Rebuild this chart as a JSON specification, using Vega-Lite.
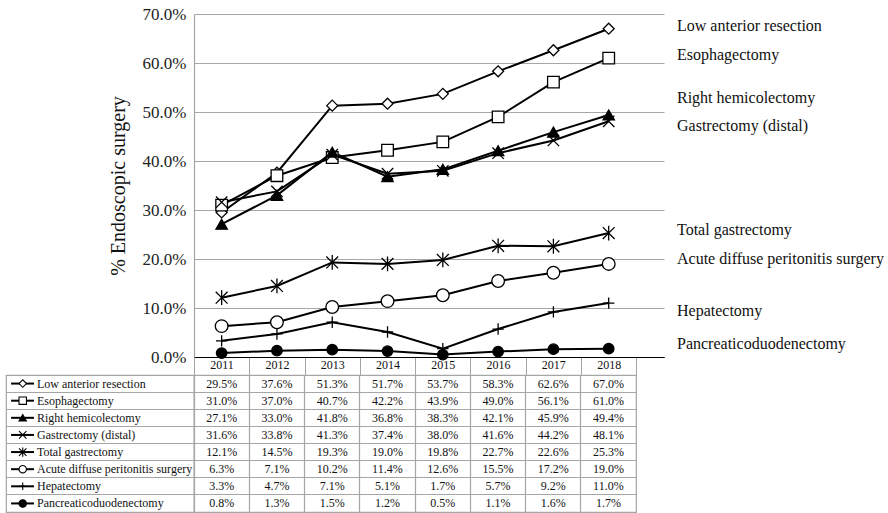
{
  "$schema": "https://vega.github.io/schema/vega-lite/v6.json",
  "padding": {"left": 5, "top": 5, "right": 0, "bottom": 0},
  "config": {
    "font": "Liberation Serif",
    "view": {"stroke": null},
    "text": {"font": "Liberation Serif"},
    "axis": {"labelFont": "Liberation Serif", "titleFont": "Liberation Serif"}
  },
  "datasets": {
    "d": [
      {"series": "Low anterior resection", "year": 2011, "pct": 0.295},
      {"series": "Low anterior resection", "year": 2012, "pct": 0.376},
      {"series": "Low anterior resection", "year": 2013, "pct": 0.513},
      {"series": "Low anterior resection", "year": 2014, "pct": 0.517},
      {"series": "Low anterior resection", "year": 2015, "pct": 0.537},
      {"series": "Low anterior resection", "year": 2016, "pct": 0.583},
      {"series": "Low anterior resection", "year": 2017, "pct": 0.626},
      {"series": "Low anterior resection", "year": 2018, "pct": 0.670},
      {"series": "Esophagectomy", "year": 2011, "pct": 0.310},
      {"series": "Esophagectomy", "year": 2012, "pct": 0.370},
      {"series": "Esophagectomy", "year": 2013, "pct": 0.407},
      {"series": "Esophagectomy", "year": 2014, "pct": 0.422},
      {"series": "Esophagectomy", "year": 2015, "pct": 0.439},
      {"series": "Esophagectomy", "year": 2016, "pct": 0.490},
      {"series": "Esophagectomy", "year": 2017, "pct": 0.561},
      {"series": "Esophagectomy", "year": 2018, "pct": 0.610},
      {"series": "Right hemicolectomy", "year": 2011, "pct": 0.271},
      {"series": "Right hemicolectomy", "year": 2012, "pct": 0.330},
      {"series": "Right hemicolectomy", "year": 2013, "pct": 0.418},
      {"series": "Right hemicolectomy", "year": 2014, "pct": 0.368},
      {"series": "Right hemicolectomy", "year": 2015, "pct": 0.383},
      {"series": "Right hemicolectomy", "year": 2016, "pct": 0.421},
      {"series": "Right hemicolectomy", "year": 2017, "pct": 0.459},
      {"series": "Right hemicolectomy", "year": 2018, "pct": 0.494},
      {"series": "Gastrectomy (distal)", "year": 2011, "pct": 0.316},
      {"series": "Gastrectomy (distal)", "year": 2012, "pct": 0.338},
      {"series": "Gastrectomy (distal)", "year": 2013, "pct": 0.413},
      {"series": "Gastrectomy (distal)", "year": 2014, "pct": 0.374},
      {"series": "Gastrectomy (distal)", "year": 2015, "pct": 0.380},
      {"series": "Gastrectomy (distal)", "year": 2016, "pct": 0.416},
      {"series": "Gastrectomy (distal)", "year": 2017, "pct": 0.442},
      {"series": "Gastrectomy (distal)", "year": 2018, "pct": 0.481},
      {"series": "Total gastrectomy", "year": 2011, "pct": 0.121},
      {"series": "Total gastrectomy", "year": 2012, "pct": 0.145},
      {"series": "Total gastrectomy", "year": 2013, "pct": 0.193},
      {"series": "Total gastrectomy", "year": 2014, "pct": 0.190},
      {"series": "Total gastrectomy", "year": 2015, "pct": 0.198},
      {"series": "Total gastrectomy", "year": 2016, "pct": 0.227},
      {"series": "Total gastrectomy", "year": 2017, "pct": 0.226},
      {"series": "Total gastrectomy", "year": 2018, "pct": 0.253},
      {"series": "Acute diffuse peritonitis surgery", "year": 2011, "pct": 0.063},
      {"series": "Acute diffuse peritonitis surgery", "year": 2012, "pct": 0.071},
      {"series": "Acute diffuse peritonitis surgery", "year": 2013, "pct": 0.102},
      {"series": "Acute diffuse peritonitis surgery", "year": 2014, "pct": 0.114},
      {"series": "Acute diffuse peritonitis surgery", "year": 2015, "pct": 0.126},
      {"series": "Acute diffuse peritonitis surgery", "year": 2016, "pct": 0.155},
      {"series": "Acute diffuse peritonitis surgery", "year": 2017, "pct": 0.172},
      {"series": "Acute diffuse peritonitis surgery", "year": 2018, "pct": 0.190},
      {"series": "Hepatectomy", "year": 2011, "pct": 0.033},
      {"series": "Hepatectomy", "year": 2012, "pct": 0.047},
      {"series": "Hepatectomy", "year": 2013, "pct": 0.071},
      {"series": "Hepatectomy", "year": 2014, "pct": 0.051},
      {"series": "Hepatectomy", "year": 2015, "pct": 0.017},
      {"series": "Hepatectomy", "year": 2016, "pct": 0.057},
      {"series": "Hepatectomy", "year": 2017, "pct": 0.092},
      {"series": "Hepatectomy", "year": 2018, "pct": 0.110},
      {"series": "Pancreaticoduodenectomy", "year": 2011, "pct": 0.008},
      {"series": "Pancreaticoduodenectomy", "year": 2012, "pct": 0.013},
      {"series": "Pancreaticoduodenectomy", "year": 2013, "pct": 0.015},
      {"series": "Pancreaticoduodenectomy", "year": 2014, "pct": 0.012},
      {"series": "Pancreaticoduodenectomy", "year": 2015, "pct": 0.005},
      {"series": "Pancreaticoduodenectomy", "year": 2016, "pct": 0.011},
      {"series": "Pancreaticoduodenectomy", "year": 2017, "pct": 0.016},
      {"series": "Pancreaticoduodenectomy", "year": 2018, "pct": 0.017}
    ]
  },
  "columns": 2,
  "align": "each",
  "bounds": "flush",
  "spacing": {"row": 18, "column": 0},
  "concat": [
    {
      "width": 188,
      "height": 343,
      "view": {"stroke": null},
      "data": {"values": [{"a": 1}]},
      "mark": {"type": "text"},
      "encoding": {"text": {"value": ""}}
    },
    {
      "width": 470,
      "height": 343,
      "view": {"stroke": null},
      "data": {"name": "d"},
      "encoding": {
        "x": {
          "field": "year",
          "type": "quantitative",
          "scale": {"domain": [2010.5, 2019], "nice": false, "zero": false},
          "axis": {
            "title": null,
            "values": [2010.5, 2011.5, 2012.5, 2013.5, 2014.5, 2015.5, 2016.5, 2017.5, 2018.5],
            "labelExpr": "datum.value > 2018 ? '' : toString(datum.value + 0.5)",
            "labelOffset": 27.6,
            "labelPadding": -16,
            "labelBaseline": "top",
            "labelFlush": false,
            "labelOverlap": false,
            "labelFontSize": 12,
            "labelColor": "#111",
            "grid": false,
            "ticks": true,
            "tickSize": 18,
            "tickColor": "#a6a6a6",
            "tickWidth": 1,
            "domainColor": "#000",
            "domainWidth": 1.2
          }
        },
        "y": {
          "field": "pct",
          "type": "quantitative",
          "scale": {"domain": [0, 0.7], "nice": false, "zero": true},
          "axis": {
            "title": "% Endoscopic surgery",
            "titleFontSize": 20,
            "titleFontWeight": "normal",
            "titleColor": "#111",
            "titlePadding": 14,
            "values": [0, 0.1, 0.2, 0.3, 0.4, 0.5, 0.6, 0.7],
            "format": ".1%",
            "labelFontSize": 17,
            "labelColor": "#222",
            "labelPadding": 8,
            "ticks": false,
            "grid": true,
            "gridColor": {"condition": {"test": "datum.value === 0", "value": "#000"}, "value": "#a6a6a6"},
            "gridWidth": 1.2,
            "domainColor": "#a6a6a6",
            "domainWidth": 1.2
          }
        }
      },
      "layer": [
        {
          "mark": {"type": "line", "color": "#000", "strokeWidth": 2},
          "encoding": {"detail": {"field": "series"}}
        },
        {
          "mark": {"type": "point", "filled": true, "opacity": 1, "stroke": "#000", "strokeWidth": 1.3},
          "encoding": {
            "shape": {
              "field": "series",
              "type": "nominal",
              "legend": null,
              "scale": {
                "domain": ["Low anterior resection", "Esophagectomy", "Right hemicolectomy", "Gastrectomy (distal)", "Total gastrectomy", "Acute diffuse peritonitis surgery", "Hepatectomy", "Pancreaticoduodenectomy"],
                "range": ["diamond", "square", "triangle-up", "M-1,-1L1,1M-1,1L1,-1", "M-1,-1L1,1M-1,1L1,-1M0,-1.25L0,1.25", "circle", "M-1,0L1,0M0,-1L0,1", "circle"]
              }
            },
            "fill": {
              "field": "series",
              "type": "nominal",
              "legend": null,
              "scale": {
                "domain": ["Low anterior resection", "Esophagectomy", "Right hemicolectomy", "Gastrectomy (distal)", "Total gastrectomy", "Acute diffuse peritonitis surgery", "Hepatectomy", "Pancreaticoduodenectomy"],
                "range": ["#fff", "#fff", "#000", "transparent", "transparent", "#fff", "transparent", "#000"]
              }
            },
            "size": {
              "field": "series",
              "type": "nominal",
              "legend": null,
              "scale": {
                "type": "ordinal",
                "domain": ["Low anterior resection", "Esophagectomy", "Right hemicolectomy", "Gastrectomy (distal)", "Total gastrectomy", "Acute diffuse peritonitis surgery", "Hepatectomy", "Pancreaticoduodenectomy"],
                "range": [120, 135, 130, 130, 140, 160, 130, 110]
              }
            }
          }
        },
        {
          "transform": [{"filter": "datum.year === 2018 && indexof(['Low anterior resection','Esophagectomy','Total gastrectomy'], datum.series) >= 0"}],
          "mark": {"type": "text", "font": "Liberation Serif", "align": "left", "baseline": "middle", "fontSize": 16, "dx": 13, "dy": -3, "color": "#111"},
          "encoding": {"x": {"datum": 2019}, "text": {"field": "series"}}
        },
        {
          "transform": [{"filter": "datum.year === 2018 && datum.series === 'Acute diffuse peritonitis surgery'"}],
          "mark": {"type": "text", "font": "Liberation Serif", "align": "left", "baseline": "middle", "fontSize": 16, "dx": 13, "dy": -4.5, "color": "#111"},
          "encoding": {"x": {"datum": 2019}, "text": {"field": "series"}}
        },
        {
          "transform": [{"filter": "datum.year === 2018 && datum.series === 'Right hemicolectomy'"}],
          "mark": {"type": "text", "font": "Liberation Serif", "align": "left", "baseline": "middle", "fontSize": 16, "dx": 13, "dy": -17, "color": "#111"},
          "encoding": {"x": {"datum": 2019}, "text": {"field": "series"}}
        },
        {
          "transform": [{"filter": "datum.year === 2018 && datum.series === 'Gastrectomy (distal)'"}],
          "mark": {"type": "text", "font": "Liberation Serif", "align": "left", "baseline": "middle", "fontSize": 16, "dx": 13, "dy": 5, "color": "#111"},
          "encoding": {"x": {"datum": 2019}, "text": {"field": "series"}}
        },
        {
          "transform": [{"filter": "datum.year === 2018 && datum.series === 'Hepatectomy'"}],
          "mark": {"type": "text", "font": "Liberation Serif", "align": "left", "baseline": "middle", "fontSize": 16, "dx": 13, "dy": 8, "color": "#111"},
          "encoding": {"x": {"datum": 2019}, "text": {"field": "series"}}
        },
        {
          "transform": [{"filter": "datum.year === 2018 && datum.series === 'Pancreaticoduodenectomy'"}],
          "mark": {"type": "text", "font": "Liberation Serif", "align": "left", "baseline": "middle", "fontSize": 16, "dx": 13, "dy": -5, "color": "#111"},
          "encoding": {"x": {"datum": 2019}, "text": {"field": "series"}}
        }
      ]
    },
    {
      "width": 188,
      "height": 137,
      "view": {"stroke": "#a6a6a6", "strokeWidth": 1.2},
      "data": {"name": "d"},
      "transform": [{"filter": "datum.year === 2011"}],
      "encoding": {
        "y": {
          "field": "series",
          "type": "nominal",
          "sort": ["Low anterior resection", "Esophagectomy", "Right hemicolectomy", "Gastrectomy (distal)", "Total gastrectomy", "Acute diffuse peritonitis surgery", "Hepatectomy", "Pancreaticoduodenectomy"],
          "scale": {"type": "band", "paddingInner": 0, "paddingOuter": 0},
          "axis": {"title": null, "labels": false, "ticks": false, "domain": false, "grid": true, "bandPosition": 0, "gridColor": "#a6a6a6", "gridWidth": 1.2}
        }
      },
      "layer": [
        {
          "mark": {"type": "rule", "color": "#000", "strokeWidth": 2},
          "encoding": {
            "x": {"datum": 0.027, "type": "quantitative", "scale": {"domain": [0, 1], "nice": false}, "axis": null},
            "x2": {"datum": 0.149}
          }
        },
        {
          "mark": {"type": "point", "filled": true, "opacity": 1, "stroke": "#000", "strokeWidth": 1.1},
          "encoding": {
            "x": {"datum": 0.089, "type": "quantitative"},
            "shape": {
              "field": "series",
              "type": "nominal",
              "legend": null,
              "scale": {
                "domain": ["Low anterior resection", "Esophagectomy", "Right hemicolectomy", "Gastrectomy (distal)", "Total gastrectomy", "Acute diffuse peritonitis surgery", "Hepatectomy", "Pancreaticoduodenectomy"],
                "range": ["diamond", "square", "triangle-up", "M-1,-1L1,1M-1,1L1,-1", "M-1,-1L1,1M-1,1L1,-1M0,-1.25L0,1.25", "circle", "M-1,0L1,0M0,-1L0,1", "circle"]
              }
            },
            "fill": {
              "field": "series",
              "type": "nominal",
              "legend": null,
              "scale": {
                "domain": ["Low anterior resection", "Esophagectomy", "Right hemicolectomy", "Gastrectomy (distal)", "Total gastrectomy", "Acute diffuse peritonitis surgery", "Hepatectomy", "Pancreaticoduodenectomy"],
                "range": ["#fff", "#fff", "#000", "transparent", "transparent", "#fff", "transparent", "#000"]
              }
            },
            "size": {"value": 55}
          }
        },
        {
          "mark": {"type": "text", "font": "Liberation Serif", "align": "left", "baseline": "middle", "fontSize": 12, "color": "#111"},
          "encoding": {
            "x": {"datum": 0.165, "type": "quantitative"},
            "text": {"field": "series"}
          }
        }
      ]
    },
    {
      "width": 442,
      "height": 137,
      "view": {"stroke": "#a6a6a6", "strokeWidth": 1.2},
      "data": {"name": "d"},
      "mark": {"type": "text", "font": "Liberation Serif", "fontSize": 12, "color": "#111"},
      "encoding": {
        "x": {
          "field": "year",
          "type": "ordinal",
          "scale": {"type": "band", "paddingInner": 0, "paddingOuter": 0},
          "axis": {"title": null, "labels": false, "ticks": false, "domain": false, "grid": true, "bandPosition": 0, "gridColor": "#a6a6a6", "gridWidth": 1.2}
        },
        "y": {
          "field": "series",
          "type": "nominal",
          "sort": ["Low anterior resection", "Esophagectomy", "Right hemicolectomy", "Gastrectomy (distal)", "Total gastrectomy", "Acute diffuse peritonitis surgery", "Hepatectomy", "Pancreaticoduodenectomy"],
          "scale": {"type": "band", "paddingInner": 0, "paddingOuter": 0},
          "axis": {"title": null, "labels": false, "ticks": false, "domain": false, "grid": true, "bandPosition": 0, "gridColor": "#a6a6a6", "gridWidth": 1.2}
        },
        "text": {"field": "pct", "type": "quantitative", "format": ".1%"}
      }
    }
  ]
}
